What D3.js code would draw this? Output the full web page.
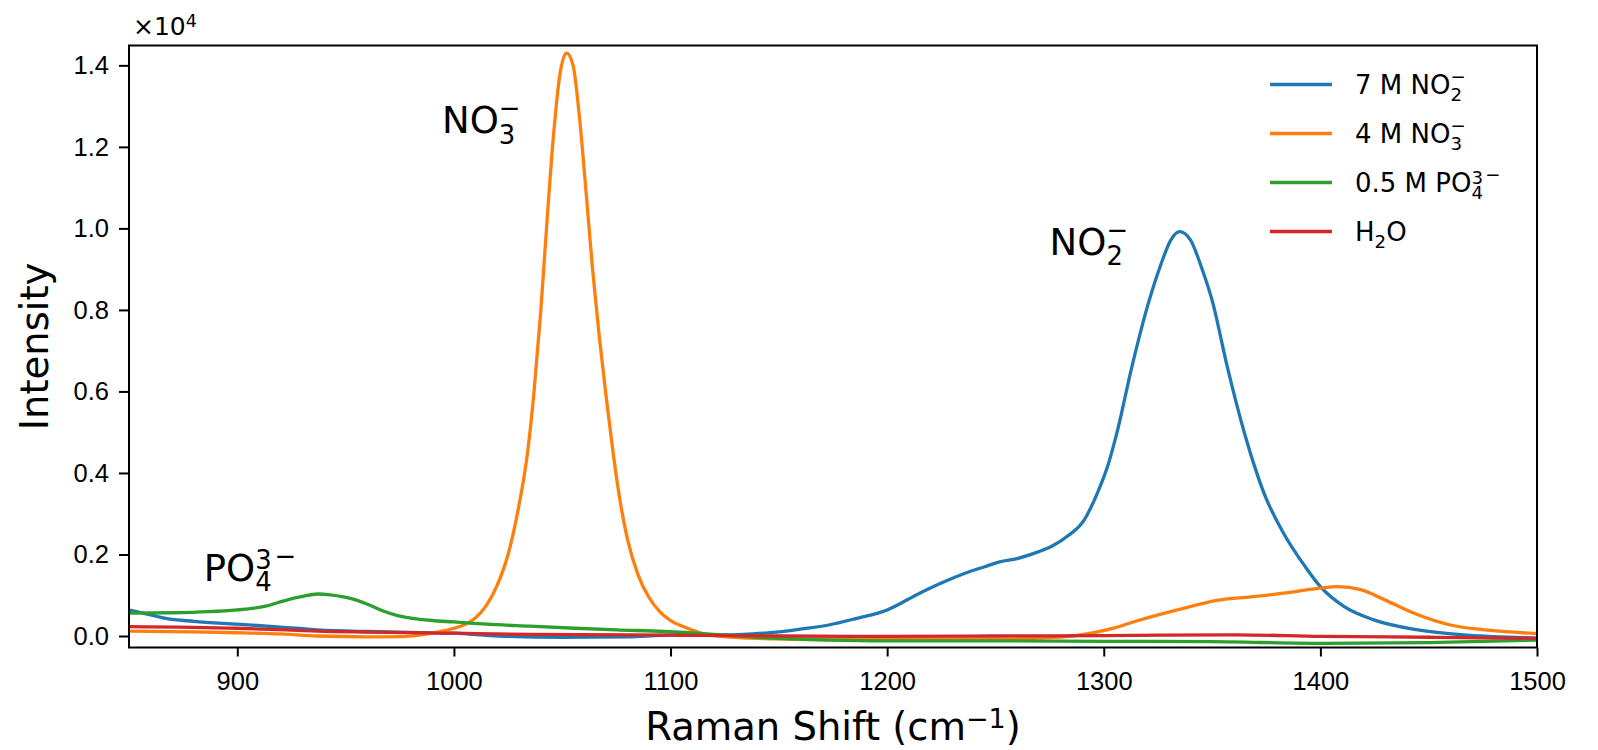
<!DOCTYPE html>
<html>
<head>
<meta charset="utf-8">
<script src="https://cdn.jsdelivr.net/npm/d3@7"></script>
<style>
  html, body { margin: 0; padding: 0; background: #fff; }
  svg { display: block; font-family: 'DejaVu Sans', sans-serif; }
  .axis text { font-size: 25.5px; fill: #000; }
  .axis line { stroke: #000; stroke-width: 2px; }
  .series { fill: none; stroke-width: 3.3px; stroke-linejoin: round; stroke-linecap: butt; }
</style>
</head>
<body>
<svg id="chart" width="1598" height="750"></svg>
<script>
// axis ranges and ticks (intensity in raw counts, shown as x1e4)
const shiftDomain = [850, 1500]
const intensityDomain = [-282, 14487]
const xTicks = [900, 1000, 1100, 1200, 1300, 1400, 1500]
const yTicks = [0, 2000, 4000, 6000, 8000, 10000, 12000, 14000]

// 7 M NO2-
const nitriteShift = [850, 860, 867, 880, 900, 920, 937, 960, 980, 1000, 1021, 1050, 1080, 1100,
  1120, 1138, 1150, 1160, 1173, 1185, 1200, 1215, 1225, 1236, 1245, 1252, 1260, 1270, 1276, 1283,
  1291, 1297, 1302, 1306, 1313, 1321, 1326, 1331, 1335, 1340, 1345, 1350, 1357, 1365, 1370, 1374,
  1383, 1393, 1400, 1411, 1425, 1445, 1468, 1500]
const nitriteCounts = [640, 520, 430, 360, 290, 220, 150, 110, 90, 70, 0, -30, -20, 20,
  20, 50, 100, 170, 270, 420, 640, 1050, 1300, 1540, 1700, 1820, 1900, 2070, 2200, 2440,
  2850, 3500, 4200, 4970, 6610, 8240, 9060, 9720, 9920, 9720, 9060, 8240, 6610, 4970, 4100, 3500,
  2520, 1700, 1210, 720, 390, 150, 20, -50]

// 4 M NO3-
const nitrateShift = [850, 880, 900, 920, 937, 960, 975, 985, 993, 1000, 1005, 1010, 1015, 1020,
  1025, 1030, 1034, 1037, 1040, 1043, 1046, 1049, 1052, 1055, 1058, 1061, 1064, 1067, 1070, 1073,
  1076, 1080, 1085, 1090, 1095, 1100, 1106, 1118, 1140, 1173, 1200, 1250, 1275, 1287, 1296, 1305,
  1314, 1334, 1353, 1368, 1383, 1399, 1408, 1419, 1430, 1445, 1460, 1476, 1500]
const nitrateCounts = [120, 100, 80, 50, 0, -20, -15, 30, 100, 190, 280, 450, 750, 1250,
  2000, 3200, 4500, 6000, 7900, 10200, 12300, 13800, 14300, 14000, 12700, 10900, 9000, 7400, 6000, 4700,
  3550, 2400, 1500, 950, 600, 380, 230, 20, -60, -90, -90, -80, -40, 10, 90, 200,
  350, 640, 880, 960, 1050, 1170, 1210, 1130, 880, 520, 270, 150, 60]

// 0.5 M PO4 3-
const phosphateShift = [850, 870, 900, 912, 922, 930, 937, 943, 949, 955, 961, 968, 974, 980,
  990, 1000, 1015, 1035, 1056, 1075, 1097, 1120, 1139, 1173, 1200, 1250, 1300, 1350, 1402, 1450, 1500]
const phosphateCounts = [560, 570, 640, 720, 870, 970, 1030, 1010, 960, 880, 760, 600, 500, 440,
  380, 345, 290, 240, 190, 150, 110, 40, -30, -100, -120, -120, -130, -140, -180, -160, -100]

// H2O
const waterShift = [850, 900, 937, 1000, 1035, 1100, 1150, 1200, 1250, 1300, 1361, 1400, 1450, 1500]
const waterCounts = [230, 190, 120, 70, 40, 20, 0, -10, 0, 10, 30, -10, -30, -60]

const seriesColors = ['#1f77b4', '#ff7f0e', '#2ca02c', '#d62728']

// legend entries, split into base / sub / sup parts
const legendLabels = [
  [{t: '7 M NO'}, {t: '2', role: 'sub'}, {t: '\u2212', role: 'sup', lift: 0.12}],
  [{t: '4 M NO'}, {t: '3', role: 'sub'}, {t: '\u2212', role: 'sup', lift: 0.12}],
  [{t: '0.5 M PO'}, {t: '4', role: 'sub'}, {t: '3', role: 'sup'}, {t: '\u2212', role: 'sup', lift: 0.12, gap: 0.08}],
  [{t: 'H'}, {t: '2', role: 'sub'}, {t: 'O'}],
]

// peak annotations, anchored in data space
const peakLabels = [
  {shift: 994.5, counts: 12330, parts: [{t: 'NO'}, {t: '3', role: 'sub'}, {t: '\u2212', role: 'sup', lift: 0.12}]},
  {shift: 1275, counts: 9350, parts: [{t: 'NO'}, {t: '2', role: 'sub'}, {t: '\u2212', role: 'sup', lift: 0.12}]},
  {shift: 884.5, counts: 1350, parts: [{t: 'PO'}, {t: '4', role: 'sub'}, {t: '3', role: 'sup'}, {t: '\u2212', role: 'sup', lift: 0.12, gap: 0.08}]},
]

function richText(text, parts, size) {
  let level = 0
  let lastSubLen = 0
  parts.forEach((p, i) => {
    const role = p.role || 'base'
    let target = 0
    if (role === 'sub') target = 0.28 * size
    if (role === 'sup') target = -(0.32 + (p.lift || 0)) * size
    const ts = text.append('tspan')
      .attr('dy', target - level)
      .style('font-size', (role === 'base' ? size : 0.7 * size) + 'px')
      .text(p.t)
    if (role === 'sup' && parts[i - 1] && parts[i - 1].role === 'sub') {
      ts.attr('dx', -lastSubLen)
    } else if (p.gap) {
      ts.attr('dx', p.gap * size)
    }
    if (role === 'sub') lastSubLen = ts.node().getComputedTextLength()
    level = target
  })
  return text
}

class RamanChart {
  constructor(selSvg) {
    this.svg = d3.select(selSvg)
    this.margins = {top: 45.5, right: 61, bottom: 102.5, left: 129}
    this.width = +this.svg.attr('width') - this.margins.left - this.margins.right
    this.height = +this.svg.attr('height') - this.margins.top - this.margins.bottom

    this.g = this.svg.append('g')
      .attr('transform', `translate(${this.margins.left}, ${this.margins.top})`)

    this.x = d3.scaleLinear().domain(shiftDomain).range([0, this.width])
    this.y = d3.scaleLinear().domain(intensityDomain).range([this.height, 0])

    this.series = [
      {shift: nitriteShift, counts: nitriteCounts},
      {shift: nitrateShift, counts: nitrateCounts},
      {shift: phosphateShift, counts: phosphateCounts},
      {shift: waterShift, counts: waterCounts},
    ]

    this.draw()
  }

  drawAxes() {
    const xAxis = this.g.append('g')
      .attr('class', 'axis axis--x')
      .attr('transform', `translate(0, ${this.height})`)
      .call(d3.axisBottom(this.x).tickValues(xTicks).tickFormat(d3.format('d'))
        .tickSize(9).tickPadding(15.5))
    xAxis.select('.domain').remove()

    const yAxis = this.g.append('g')
      .attr('class', 'axis axis--y')
      .call(d3.axisLeft(this.y).tickValues(yTicks).tickFormat((d) => (d / 1e4).toFixed(1))
        .tickSize(10).tickPadding(10))
    yAxis.select('.domain').remove()

    this.g.append('rect')
      .attr('width', this.width)
      .attr('height', this.height)
      .attr('fill', 'none')
      .attr('stroke', '#000')
      .attr('stroke-width', 2)

    // offset text above the y axis
    richText(this.svg.append('text').attr('x', this.margins.left + 4).attr('y', 35),
      [{t: '\u00d710'}, {t: '4', role: 'sup'}], 25)

    richText(this.svg.append('text')
      .attr('x', this.margins.left + this.width / 2)
      .attr('y', 740)
      .attr('text-anchor', 'middle'),
      [{t: 'Raman Shift (cm'}, {t: '\u22121', role: 'sup'}, {t: ')'}], 38.5)

    this.svg.append('text')
      .attr('transform', `translate(48, ${this.margins.top + this.height / 2}) rotate(-90)`)
      .attr('text-anchor', 'middle')
      .style('font-size', '38.5px')
      .text('Intensity')
  }

  drawLines() {
    this.svg.append('defs').append('clipPath').attr('id', 'plot-clip')
      .append('rect').attr('width', this.width).attr('height', this.height)

    const line = d3.line()
      .x((d) => this.x(d[0]))
      .y((d) => this.y(d[1]))
      .curve(d3.curveMonotoneX)

    this.g.append('g')
      .attr('clip-path', 'url(#plot-clip)')
      .selectAll('.series')
      .data(this.series)
      .enter()
      .append('path')
      .attr('class', 'series')
      .attr('stroke', (d, i) => seriesColors[i])
      .attr('d', (d) => line(d3.zip(d.shift, d.counts)))
  }

  drawLegend() {
    const legend = this.svg.append('g')
      .attr('class', 'legend')
      .selectAll('g')
      .data(legendLabels)
      .enter()
      .append('g')
      .attr('transform', (d, i) => `translate(1270, ${84.5 + i * 49})`)

    legend.append('line')
      .attr('x1', 0)
      .attr('x2', 62)
      .attr('stroke', (d, i) => seriesColors[i])
      .attr('stroke-width', 3.3)

    legend.each(function (d) {
      richText(d3.select(this).append('text').attr('x', 85).attr('y', 9.5), d, 26)
    })
  }

  drawLabels() {
    peakLabels.forEach((p) => {
      richText(this.g.append('text')
        .attr('x', this.x(p.shift))
        .attr('y', this.y(p.counts)), p.parts, 37)
    })
  }

  draw() {
    this.drawLines()
    this.drawAxes()
    this.drawLegend()
    this.drawLabels()
  }
}

new RamanChart('#chart')
</script>
</body>
</html>
